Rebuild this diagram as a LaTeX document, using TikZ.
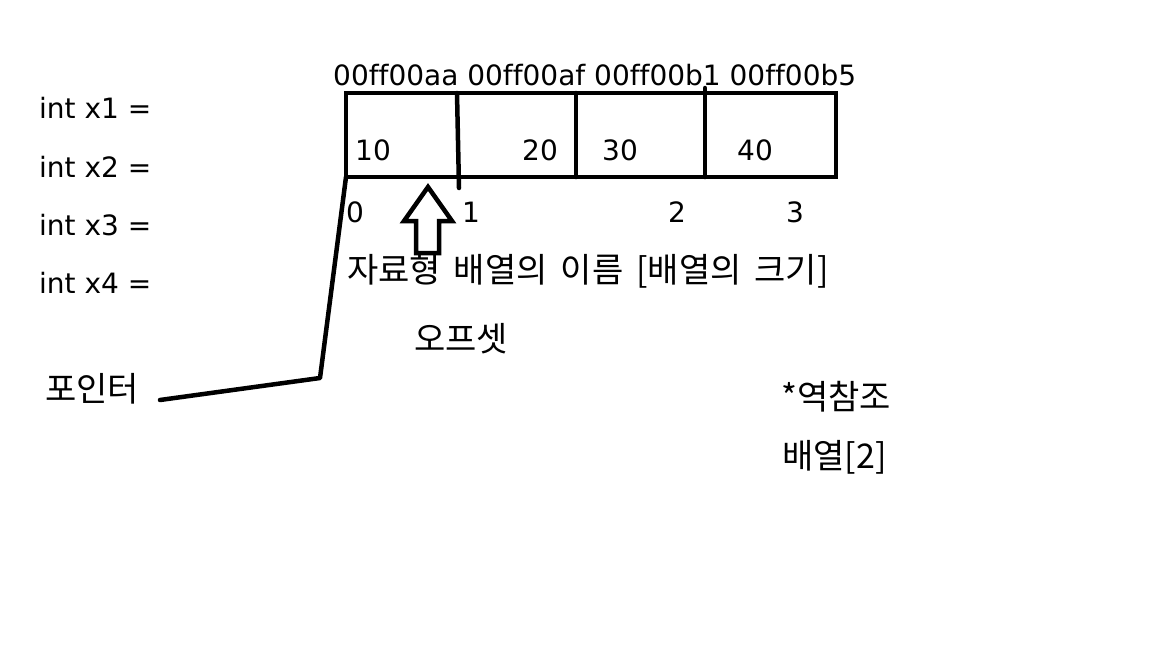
\documentclass[tikz,border=0pt]{standalone}
\usepackage{fontspec}
\setmainfont[Ligatures=NoCommon]{DejaVu Sans}
\newfontfamily\kor[WordSpace=1.7]{Noto Sans CJK KR}
\usetikzlibrary{positioning}

\begin{document}
\begin{tikzpicture}[x=1pt,y=-1pt,
	every node/.style={inner sep=0pt,anchor=base west,font=\fontsize{28}{32}\selectfont},
	ko/.style={font=\kor\fontsize{34}{40}\selectfont},
	thick line/.style={line width=4.5pt,line cap=round}]
	\useasboundingbox[fill=white] (0,0) rectangle (1152,648);
	%% 왼쪽 변수
	\node (x1) at (39,118) {int x1 =};
	\node (x2) at (39,177) {int x2 =};
	\node (x3) at (39,235) {int x3 =};
	\node (x4) at (39,293) {int x4 =};
	% 배열
	\draw[thick line] (346,93) rectangle (836,177);
	\draw[thick line] (457,93) -- (459,188);
	\draw[thick line] (576,93) -- (576,177);
	\draw[thick line] (705,88) -- (705,177);
	\coordinate (p0) at (346,177);
	% 주소
	\node (addr) at (333,85) {00ff00aa 00ff00af 00ff00b1 00ff00b5};
	% 값
	\node (v1) at (355,160) {10};
	\node (v2) at (522,160) {20};
	\node (v3) at (602,160) {30};
	\node (v4) at (737,160) {40};
	% 인덱스
	\node (i0) at (346,222) {0};
	\node (i1) at (462,222) {1};
	\node (i2) at (668,222) {2};
	\node (i3) at (786,222) {3};
	% 화살표
	\draw[line width=4.5pt,line join=miter] (428,187) -- (452,221) -- (439,221) -- (439,253)
		-- (416,253) -- (416,221) -- (404,221) -- cycle;
	\node[ko] (decl) at (347,282) {자료형 배열의 이름 [배열의 크기]};
	\node[ko] (ofs) at (414,351) {오프셋};
	\node[ko] (ptr) at (45,401) {포인터};
	\node[ko] (deref) at (781,409) {*역참조};
	\node[ko] (idx) at (782,468) {배열[2]};
	% 포인터 선
	\coordinate (p1) at (320,378);
	\coordinate (p2) at (160,400);
	\draw[thick line,line join=round] (p0) -- (p1) -- (p2);
\end{tikzpicture}
\end{document}
